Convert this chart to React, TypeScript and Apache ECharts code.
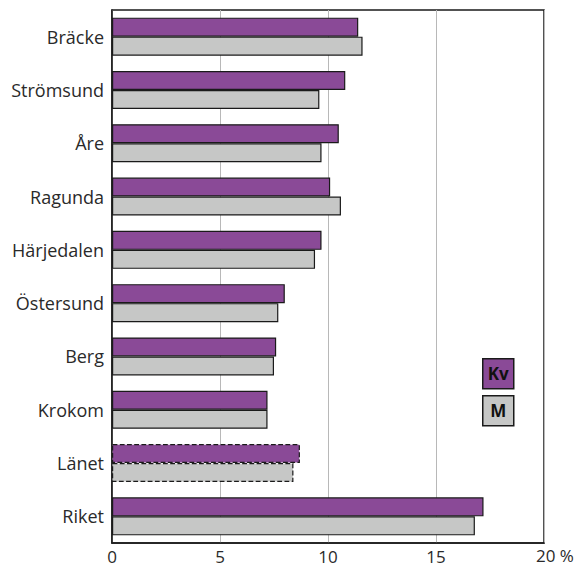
import React, { useEffect, useRef } from "react";
import * as echarts from "echarts";

const categories = ["Bräcke", "Strömsund", "Åre", "Ragunda", "Härjedalen", "Östersund", "Berg", "Krokom", "Länet", "Riket"];
const kvValues = [11.4, 10.8, 10.5, 10.1, 9.7, 8.0, 7.6, 7.2, 8.7, 17.2];
const mValues = [11.6, 9.6, 9.7, 10.6, 9.4, 7.7, 7.5, 7.2, 8.4, 16.8];
const xTicks = [0, 5, 10, 15, 20];
const lastTickLabel = "20 %";
const dashedCategory = "Länet";

const KV_COLOR = "#8a4a97";
const M_COLOR = "#c6c7c6";
const FONT = "Open Sans";

function toData(values: number[]) {
  return values.map((v, i) =>
    categories[i] === dashedCategory
      ? { value: v, itemStyle: { borderType: "dashed" as const } }
      : v
  );
}

export default function App() {
  const ref = useRef<HTMLDivElement>(null);
  useEffect(() => {
    if (!ref.current) return;
    const chart = echarts.init(ref.current, null, { renderer: "svg" });
    const xMax = xTicks[xTicks.length - 1];
    chart.setOption({
      animation: false,
      grid: {
        left: 112,
        top: 10,
        right: 34,
        bottom: 26,
        show: true,
        borderColor: "#1a1a1a",
        borderWidth: 1.5,
      },
      xAxis: {
        type: "value",
        min: xTicks[0],
        max: xMax,
        interval: 5,
        axisLine: { show: true, lineStyle: { color: "#1a1a1a", width: 1.5 } },
        axisTick: { show: false },
        splitLine: { show: true, lineStyle: { color: "#b8b8b8", width: 1 } },
        axisLabel: {
          color: "#2a2a2a",
          fontFamily: FONT,
          fontSize: 17,
          margin: 5,
          formatter: (v: number) => (v === xMax ? "" : String(v)),
        },
      },
      yAxis: {
        type: "category",
        data: categories,
        inverse: true,
        axisLine: { show: true, lineStyle: { color: "#1a1a1a", width: 1.5 } },
        axisTick: { show: false },
        splitLine: { show: false },
        axisLabel: {
          color: "#2a2a2a",
          fontFamily: FONT,
          fontSize: 18,
          margin: 8,
        },
      },
      series: [
        {
          name: "Kv",
          type: "bar",
          data: toData(kvValues),
          barWidth: 19,
          barGap: "0%",
          itemStyle: { color: KV_COLOR, borderColor: "#1a1a1a", borderWidth: 1.2 },
        },
        {
          name: "M",
          type: "bar",
          data: toData(mValues),
          barWidth: 19,
          barGap: "0%",
          itemStyle: { color: M_COLOR, borderColor: "#1a1a1a", borderWidth: 1.2 },
        },
      ],
      graphic: [
        {
          type: "text",
          left: 536,
          top: 547,
          style: { text: lastTickLabel, fontFamily: FONT, fontSize: 17, fill: "#2a2a2a" },
        },
        {
          type: "group",
          left: 482,
          top: 358,
          children: [
            {
              type: "rect",
              shape: { x: 0, y: 0, width: 31, height: 30 },
              style: { fill: KV_COLOR, stroke: "#1a1a1a", lineWidth: 1.5 },
            },
            {
              type: "text",
              x: 15.5,
              y: 15,
              style: {
                text: "Kv",
                align: "center",
                verticalAlign: "middle",
                fontFamily: FONT,
                fontWeight: "bold",
                fontSize: 17,
                fill: "#111",
              },
            },
            {
              type: "rect",
              shape: { x: 0, y: 37, width: 31, height: 30 },
              style: { fill: M_COLOR, stroke: "#1a1a1a", lineWidth: 1.5 },
            },
            {
              type: "text",
              x: 15.5,
              y: 52,
              style: {
                text: "M",
                align: "center",
                verticalAlign: "middle",
                fontFamily: FONT,
                fontWeight: "bold",
                fontSize: 17,
                fill: "#111",
              },
            },
          ],
        },
      ],
    });
    return () => chart.dispose();
  }, []);
  return <div ref={ref} style={{ width: 578, height: 569, position: "absolute", left: 0, top: 0 }} />;
}
